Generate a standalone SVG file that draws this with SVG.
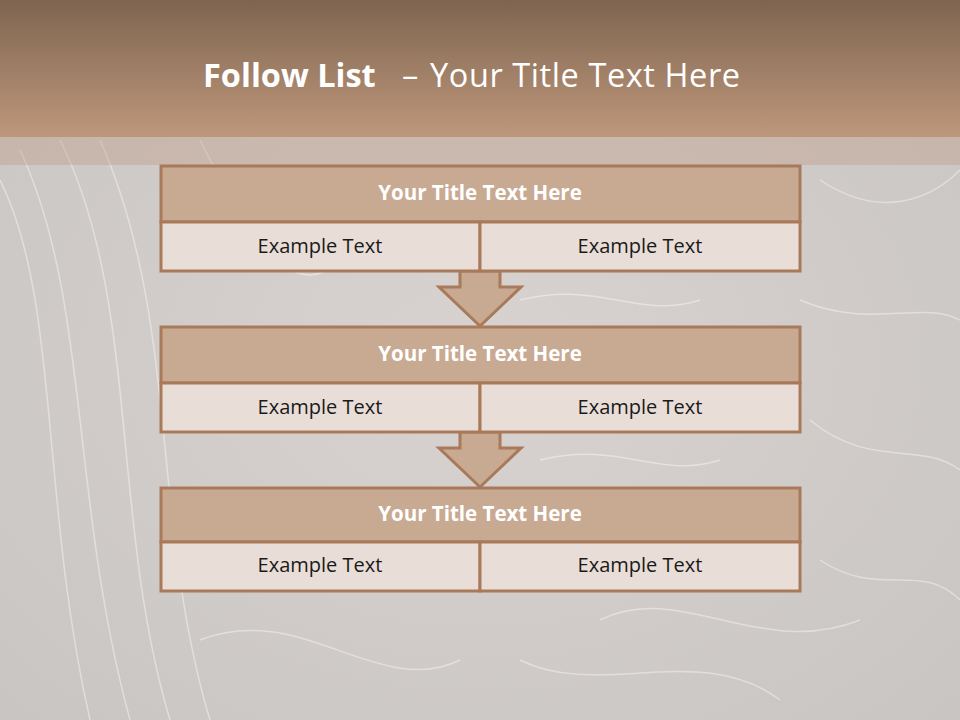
<svg xmlns="http://www.w3.org/2000/svg" width="960" height="720" viewBox="0 0 960 720">
<defs>
<linearGradient id="hdr" x1="0" y1="0" x2="0" y2="1">
<stop offset="0" stop-color="#7e6550"/>
<stop offset="1" stop-color="#be977b"/>
</linearGradient>
<radialGradient id="bg" cx="0.5" cy="0.5" r="0.7">
<stop offset="0" stop-color="#d8d3d0"/>
<stop offset="1" stop-color="#c9c5c3"/>
</radialGradient>
<style>
.ttl{fill:#c8aa92;stroke:#a87a5a;stroke-width:3}
.cell{fill:#e9ded7;stroke:#a87a5a;stroke-width:3}
.arr{fill:#c8aa92;stroke:#a87a5a;stroke-width:3;stroke-linejoin:miter}
.th{font-family:"Open Sans","Liberation Sans",sans-serif;font-weight:bold;font-size:20.5px;fill:#ffffff;text-anchor:middle}
.ct{font-family:"Open Sans","Liberation Sans",sans-serif;font-size:20px;fill:#1a1a1a;text-anchor:middle}
.sw{fill:none;stroke:#ffffff;stroke-opacity:0.4;stroke-width:1.5}
.hd{font-family:"Open Sans","Liberation Sans",sans-serif;font-size:32.5px;fill:#ffffff}
</style>
</defs>
<rect x="0" y="0" width="960" height="720" fill="url(#bg)"/>
<g class="sw">
<path d="M0 180 C60 300 40 500 90 720"/>
<path d="M20 150 C90 300 70 500 130 720"/>
<path d="M60 140 C140 300 110 520 170 720"/>
<path d="M200 140 C260 260 300 300 340 260"/>
<path d="M100 140 C180 320 150 520 210 720"/>
<path d="M820 180 C880 220 930 200 960 170"/>
<path d="M800 300 C870 330 920 300 960 320"/>
<path d="M810 420 C870 470 920 440 960 470"/>
<path d="M520 300 C600 280 640 320 700 300"/>
<path d="M600 620 C680 580 760 660 860 620"/>
<path d="M200 640 C300 600 380 700 460 660"/>
<path d="M520 660 C600 700 700 640 780 700"/>
<path d="M820 560 C880 600 920 560 960 600"/>
<path d="M540 460 C620 440 660 480 720 460"/>
</g>
<rect x="0" y="0" width="960" height="137" fill="url(#hdr)"/>
<rect x="0" y="137" width="960" height="28" fill="#bd967a" fill-opacity="0.35"/>
<text class="hd" y="87"><tspan x="203" font-weight="bold">Follow List</tspan><tspan x="402">–</tspan><tspan x="430" textLength="310" lengthAdjust="spacing">Your Title Text Here</tspan></text>
<g id="connectors">
<path class="arr" d="M460 271 L500 271 L500 287 L521 287 L480 326 L439 287 L460 287 Z"/>
<path class="arr" d="M460 432 L500 432 L500 448 L521 448 L480 487 L439 448 L460 448 Z"/>
</g>
<g id="node1">
<rect class="ttl" x="161" y="166" width="639" height="56"/>
<rect class="cell" x="161" y="222" width="319" height="49"/>
<rect class="cell" x="480" y="222" width="320" height="49"/>
<text class="th" x="480" y="200">Your Title Text Here</text>
<text class="ct" x="320" y="253">Example Text</text>
<text class="ct" x="640" y="253">Example Text</text>
</g>
<g id="node2">
<rect class="ttl" x="161" y="327" width="639" height="56"/>
<rect class="cell" x="161" y="383" width="319" height="49"/>
<rect class="cell" x="480" y="383" width="320" height="49"/>
<text class="th" x="480" y="361">Your Title Text Here</text>
<text class="ct" x="320" y="414">Example Text</text>
<text class="ct" x="640" y="414">Example Text</text>
</g>
<g id="node3">
<rect class="ttl" x="161" y="488" width="639" height="54"/>
<rect class="cell" x="161" y="542" width="319" height="49"/>
<rect class="cell" x="480" y="542" width="320" height="49"/>
<text class="th" x="480" y="521">Your Title Text Here</text>
<text class="ct" x="320" y="572">Example Text</text>
<text class="ct" x="640" y="572">Example Text</text>
</g>
</svg>
